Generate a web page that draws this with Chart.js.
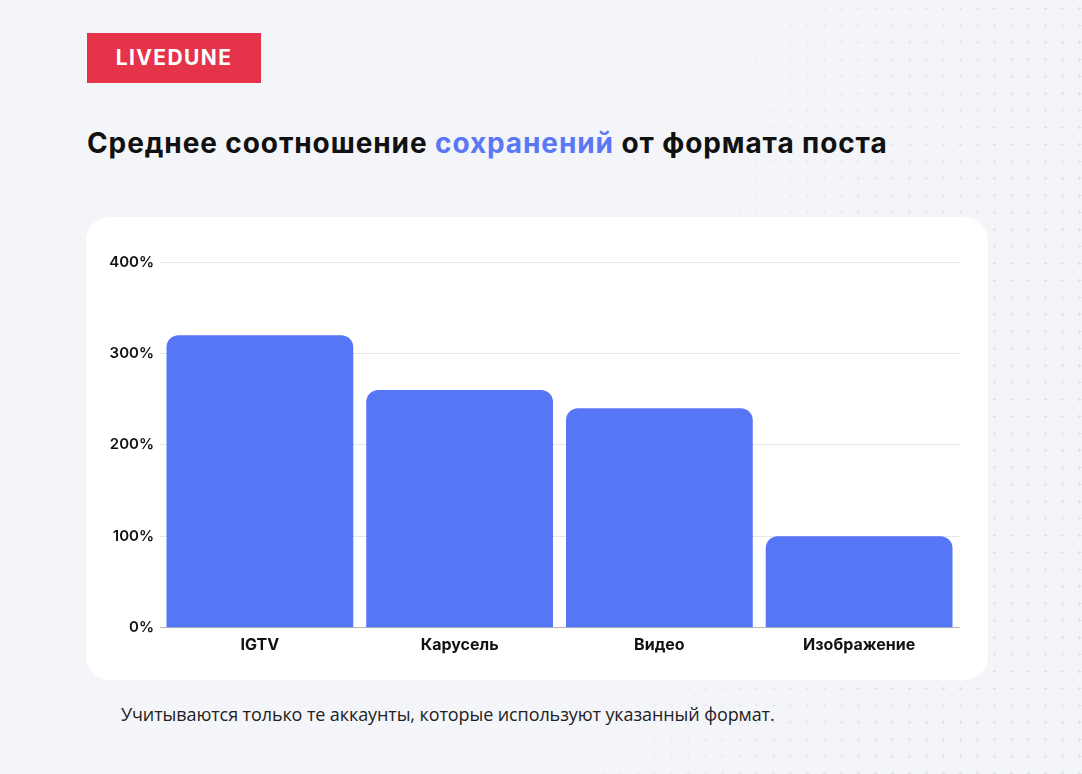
<!DOCTYPE html>
<html lang="ru">
<head>
<meta charset="utf-8">
<script src="https://cdn.jsdelivr.net/npm/chart.js@4.4.1/dist/chart.umd.min.js"></script>
<style>
  html, body { margin: 0; padding: 0; }
  body {
    width: 1082px; height: 774px; position: relative; overflow: hidden;
    background: #f4f5f9; font-family: Inter, sans-serif;
  }
  .muster {
    position: absolute; left: 0; top: 0; width: 1082px; height: 774px;
    background-image: url("data:image/svg+xml,%3Csvg xmlns='http://www.w3.org/2000/svg' width='17' height='17'%3E%3Cpath d='M8.5 6.5v4M6.5 8.5h4' stroke='%23dfe1ea' stroke-width='1'/%3E%3C/svg%3E");
    -webkit-mask-image: linear-gradient(100deg, transparent 55%, #000 85%);
    mask-image: linear-gradient(100deg, transparent 55%, #000 85%);
  }
  .logo {
    position: absolute; left: 87px; top: 33px; width: 174px; height: 50px;
    background: #e5344a; color: #fff; font-weight: 700; font-size: 21px;
    letter-spacing: 1.4px; line-height: 50px; text-align: center;
  }
  h1 {
    position: absolute; left: 87px; top: 126px; margin: 0;
    font-size: 28px; font-weight: 700; color: #111; letter-spacing: 0.9px;
    line-height: 34px;
  }
  h1 span { color: #5a78f6; }
  .karte {
    position: absolute; left: 86px; top: 217px; width: 902px; height: 463px;
    background: #fff; border-radius: 24px;
  }
  .karte canvas { position: absolute; left: 0; top: 0; }
  .fussnote {
    position: absolute; left: 121px; top: 701px; margin: 0;
    font-family: "Open Sans", sans-serif; font-size: 18px; color: #222;
    letter-spacing: -0.1px; line-height: 26px;
  }
</style>
</head>
<body>
<div class="muster"></div>
<div class="logo">LIVEDUNE</div>
<h1>Среднее соотношение <span>сохранений</span> от формата поста</h1>
<div class="karte"><canvas id="formatChart" width="902" height="463"></canvas></div>
<p class="fussnote">Учитываются только те аккаунты, которые используют указанный формат.</p>

<script>
const formate = ['IGTV', 'Карусель', 'Видео', 'Изображение'];
const speicherquote = [320, 260, 240, 100]; // in %
const yTicks = [0, 100, 200, 300, 400];

const ctx = document.getElementById('formatChart').getContext('2d');

new Chart(ctx, {
  type: 'bar',
  data: {
    labels: formate,
    datasets: [{
      label: 'Сохранения',
      data: speicherquote,
      backgroundColor: '#5776f6',
      borderRadius: { topLeft: 12, topRight: 12 },
      borderSkipped: 'start',
      barPercentage: 0.935,
      categoryPercentage: 1
    }]
  },
  options: {
    responsive: false,
    animation: false,
    layout: { padding: { left: 0, right: 29, top: 45, bottom: 17 } },
    scales: {
      y: {
        min: 0,
        max: 400,
        afterBuildTicks: scale => { scale.ticks = yTicks.map(v => ({ value: v })); },
        afterFit: scale => { scale.width = 74; },
        ticks: {
          padding: 6,
          color: '#111',
          font: { family: 'Inter', size: 15, weight: '600' },
          callback: v => v + '%'
        },
        grid: { color: '#e6e6e6', drawTicks: false },
        border: { display: false }
      },
      x: {
        ticks: {
          padding: 8,
          color: '#111',
          font: { family: 'Inter', size: 16, weight: '700' }
        },
        grid: { display: false, drawTicks: false },
        border: { display: true, color: '#b5b5b5' }
      }
    },
    plugins: {
      legend: { display: false },
      tooltip: { enabled: false }
    }
  }
});
</script>
</body>
</html>
